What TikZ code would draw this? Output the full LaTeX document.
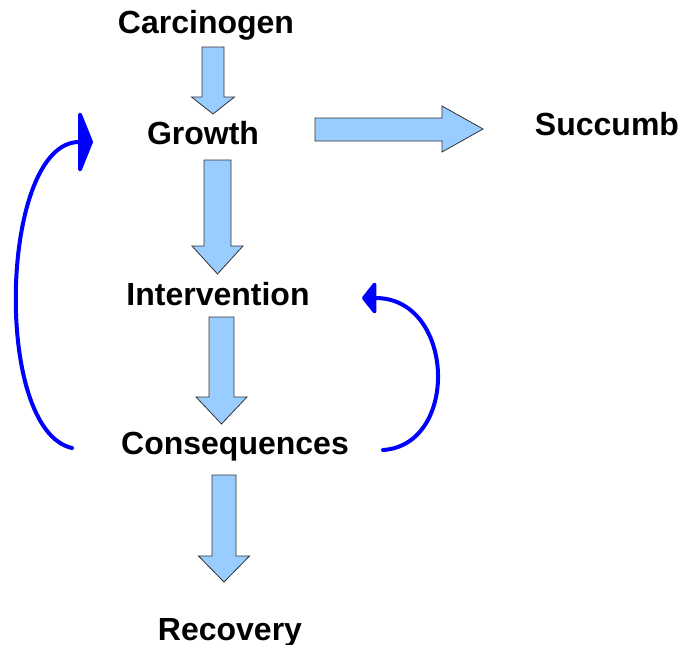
\documentclass[tikz,border=0pt]{standalone}
\usepackage{fontspec}
\setmainfont{Liberation Sans}
\usetikzlibrary{arrows.meta}
\definecolor{blockfill}{HTML}{99CCFF}
\definecolor{loopblue}{HTML}{0000FF}
\tikzset{
  lbl/.style={font=\bfseries\fontsize{32}{36}\selectfont, anchor=base, inner sep=0pt},
  blockarrow/.style={fill=blockfill, draw=black!80, line width=0.8pt, line join=miter},
  loopline/.style={draw=loopblue, line width=4pt, line cap=round}
}
\newcommand\downblock[6]{%
  \path[blockarrow] (#1-#5,#2) -- (#1+#5,#2) -- (#1+#5,#3) -- (#1+#6,#3) -- (#1,#4) -- (#1-#6,#3) -- (#1-#5,#3) -- cycle;}
\begin{document}
\begin{tikzpicture}[x=1pt,y=-1pt]
\useasboundingbox (0,0) rectangle (681,645);
% labels
\node[lbl] (carc) at (206,33) {Carcinogen};
\node[lbl] (grow) at (203,144) {Growth};
\node[lbl] (succ) at (607,135) {Succumb};
\node[lbl] (inter) at (218,305) {Intervention};
\node[lbl] (cons) at (235,454) {Consequences};
\node[lbl] (reco) at (230,640) {Recovery};
% block arrows
\downblock{213}{47}{97}{114}{11}{21.5}
\downblock{217.5}{160}{246}{274}{13.5}{25.5}
\downblock{221.5}{317}{397}{424}{12.5}{25.5}
\downblock{224}{475}{556}{582}{12}{25.5}
\path[blockarrow] (315,118) -- (442,118) -- (442,106) -- (483,129) -- (442,152) -- (442,141) -- (315,141) -- cycle;
% loops
\coordinate (lstart) at (72,448);
\coordinate (lend) at (93,142);
\coordinate (rstart) at (383,450);
\coordinate (rend) at (362,298);
\draw[loopline, -{Triangle[length=15pt,width=74pt,round]}] (lstart) .. controls (-8,430) and (0,142) .. (lend);
\draw[loopline, -{Triangle[length=15pt,width=37pt,round]}] (rstart) .. controls (460,445) and (455,298) .. (rend);
\end{tikzpicture}
\end{document}
